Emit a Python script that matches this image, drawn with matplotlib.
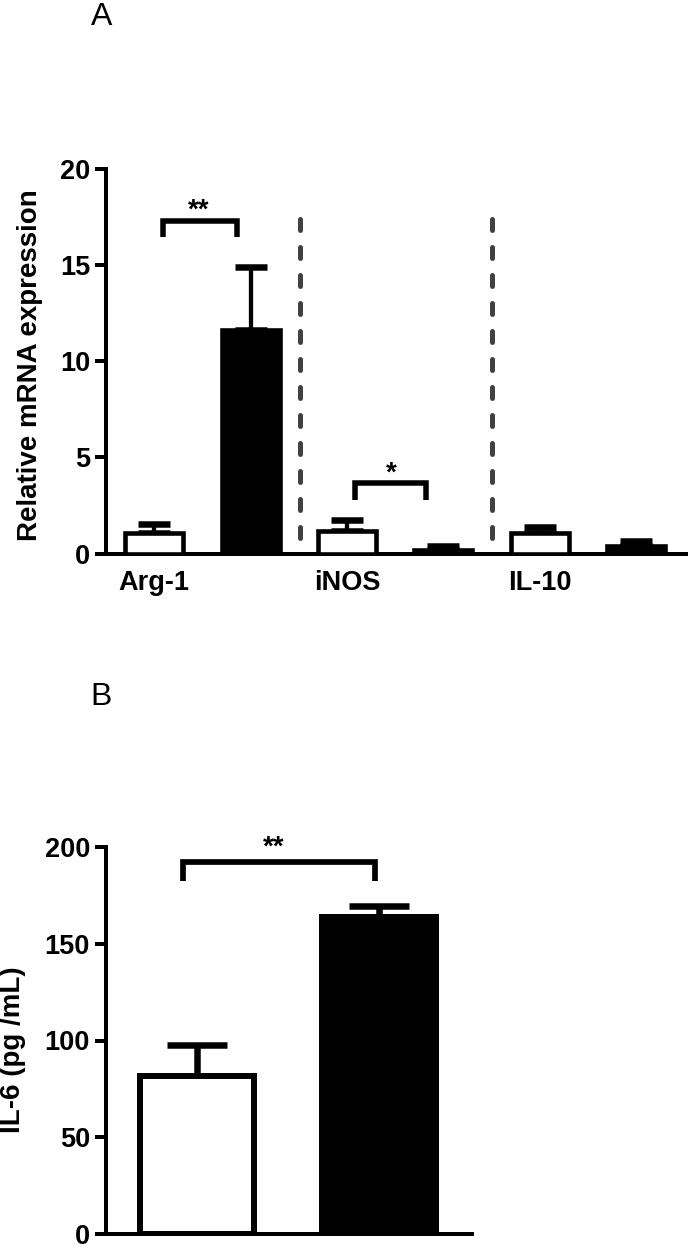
import matplotlib
matplotlib.use('Agg')
import matplotlib.pyplot as plt
import numpy as np

plt.rcParams['font.family'] = ['Liberation Sans', 'DejaVu Sans']
plt.rcParams['lines.scale_dashes'] = False

# ---------------- data ----------------
genes = ['Arg-1', 'iNOS', 'IL-10']
ctrl_mrna = [1.10, 1.17, 1.07]
ctrl_mrna_err = [0.46, 0.56, 0.32]
treat_mrna = [11.6, 0.19, 0.40]
treat_mrna_err = [3.30, 0.21, 0.26]
mrna_yticks = [0, 5, 10, 15, 20]

il6 = [81.5, 163.9]
il6_err = [16.0, 5.7]
il6_yticks = [0, 50, 100, 150, 200]

# significance marks: (left x, right x, top y, bottom y, text, text x, text y)
sig_A = [(0.59, 1.36, 17.3, 16.45, '**', 0.96, 17.45),
         (2.58, 3.32, 3.68, 2.80, '*', 2.96, 3.82)]
sig_B = [(0.423, 1.48, 192.2, 182.4, '**', 0.92, 196.0)]
separators = [2.01, 4.0]

PX = 0.72  # points per pixel at dpi 100

fig = plt.figure(figsize=(6.88, 12.46), dpi=100)

# ---------------- Panel A ----------------
axA = fig.add_axes([106/688, 1-553.7/1246, 580/688, 385/1246])
n = len(genes)
xc = np.arange(n) * 2 + 0.5
xt = xc + 1.0
bw = 0.60
axA.bar(xc, ctrl_mrna, width=bw, color='white', edgecolor='black',
        linewidth=4.6*PX, zorder=3)
axA.bar(xt, treat_mrna, width=bw, color='black', edgecolor='black',
        linewidth=4.6*PX, zorder=3)
axA.errorbar(xc, ctrl_mrna, yerr=[np.zeros(n), ctrl_mrna_err], fmt='none',
             ecolor='black', elinewidth=4.3*PX, capsize=16*PX, capthick=6.5*PX, zorder=2)
axA.errorbar(xt, treat_mrna, yerr=[np.zeros(n), treat_mrna_err], fmt='none',
             ecolor='black', elinewidth=4.3*PX, capsize=16*PX, capthick=6.5*PX, zorder=2)

for sx in separators:
    axA.plot([sx, sx], [17.4, 0.25], color='#404040', lw=5*PX,
             dashes=(11*PX, 17*PX), dash_capstyle='round', zorder=1)

for (x1, x2, yt, yb, lab, tx, ty) in sig_A:
    axA.plot([x1, x1, x2, x2], [yb, yt, yt, yb], color='black', lw=5.5*PX,
             solid_joinstyle='miter', solid_capstyle='butt', zorder=3)
    axA.text(tx, ty, lab, ha='center', va='baseline', fontsize=20, fontweight='bold')

axA.set_xlim(0, 580/96.4)
axA.set_ylim(0, 20)
axA.set_yticks(mrna_yticks)
axA.set_xticks(xc)
axA.set_xticklabels(genes)
axA.tick_params(axis='x', length=0, pad=11.5, labelsize=19.5)
axA.tick_params(axis='y', length=11*PX, width=4*PX, pad=5*PX, labelsize=19.5)
for lab in axA.get_xticklabels() + axA.get_yticklabels():
    lab.set_fontweight('bold')
for s in ['top', 'right']:
    axA.spines[s].set_visible(False)
for s in ['left', 'bottom']:
    axA.spines[s].set_linewidth(4*PX)
axA.set_ylabel('Relative mRNA expression', fontsize=20, fontweight='bold')
axA.yaxis.set_label_coords(-0.109, 0.49)

# ---------------- Panel B ----------------
axB = fig.add_axes([106/688, 1-1233.8/1246, 366/688, 386.6/1246])
xb = np.arange(len(il6)) + 0.5
axB.bar(xb[0], il6[0], width=0.626, color='white', edgecolor='black',
        linewidth=6*PX, zorder=3)
axB.bar(xb[1], il6[1], width=0.626, color='black', edgecolor='black',
        linewidth=6*PX, zorder=3)
axB.errorbar(xb, il6, yerr=[np.zeros(len(il6)), il6_err], fmt='none',
             ecolor='black', elinewidth=6.5*PX, capsize=30*PX, capthick=6.5*PX, zorder=2)
for (x1, x2, yt, yb, lab, tx, ty) in sig_B:
    axB.plot([x1, x1, x2, x2], [yb, yt, yt, yb], color='black', lw=5.7*PX,
             solid_joinstyle='miter', solid_capstyle='butt', zorder=3)
    axB.text(tx, ty, lab, ha='center', va='baseline', fontsize=20, fontweight='bold')

axB.set_xlim(0, 366/182)
axB.set_ylim(0, 200)
axB.set_yticks(il6_yticks)
axB.set_xticks([])
axB.tick_params(axis='y', length=11*PX, width=4*PX, pad=5*PX, labelsize=19.5)
for lab in axB.get_yticklabels():
    lab.set_fontweight('bold')
for s in ['top', 'right']:
    axB.spines[s].set_visible(False)
for s in ['left', 'bottom']:
    axB.spines[s].set_linewidth(4*PX)
axB.set_ylabel('IL-6 (pg /mL)', fontsize=20, fontweight='bold')
axB.yaxis.set_label_coords(-0.219, 0.475)

# panel letters
fig.text(102/688, 1-25/1246, 'A', fontsize=23, ha='center', va='baseline')
fig.text(101/688, 1-705/1246, 'B', fontsize=23, ha='center', va='baseline')

fig.savefig('out.png', dpi=100)
